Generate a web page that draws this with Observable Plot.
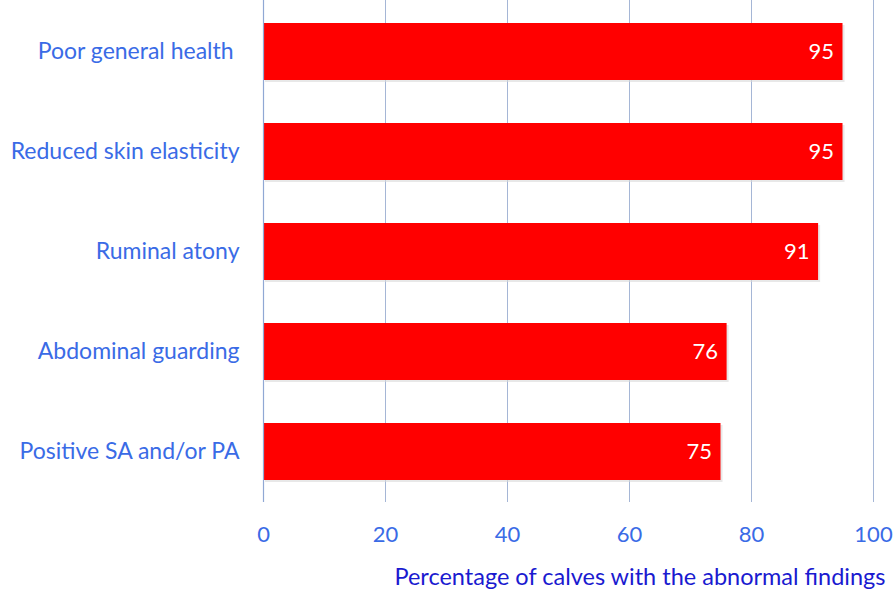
<!DOCTYPE html>
<html><head><meta charset="utf-8">
<script src="https://cdn.jsdelivr.net/npm/d3@7"></script>
<script src="https://cdn.jsdelivr.net/npm/@observablehq/plot@0.6"></script>
<style>body{margin:0;background:#fff;} svg{font-family:Lato,"Open Sans",sans-serif;}</style>
</head><body><div id="chart"></div>
<script>
const categories = ["Poor general health ", "Reduced skin elasticity", "Ruminal atony", "Abdominal guarding", "Positive SA and/or PA"];
const values = [95, 95, 91, 76, 75];
const xTicks = [0, 20, 40, 60, 80, 100];
const xTitle = "Percentage of calves with the abnormal findings";
const data = categories.map((c, i) => ({cat: c, v: values[i]}));

const chart = Plot.plot({
  width: 896, height: 593,
  marginLeft: 263, marginRight: 23, marginTop: 0, marginBottom: 91,
  style: {fontSize: "20px", fontFamily: "Lato, 'Open Sans', sans-serif"},
  x: {domain: [0, 100], ticks: xTicks},
  y: {domain: categories, paddingInner: 0.43, paddingOuter: 0.215, label: null},
  marks: [
    Plot.ruleX(xTicks.slice(1), {stroke: "#a5b6d6", strokeWidth: 1}),
    Plot.ruleY([0], {frameAnchor: "bottom", stroke: "#a5b6d6", strokeWidth: 1}),
    Plot.barX(data, {x: "v", y: "cat", fill: "#d8d8d8", dx: 2, dy: 2, fillOpacity: 0.6}),
    Plot.barX(data, {x: "v", y: "cat", fill: "#ff0000"}),
    Plot.ruleX([0], {stroke: "#90a8d4", strokeWidth: 1.2}),
    Plot.text(data, {x: "v", y: "cat", text: d => String(d.v), textAnchor: "end", dx: -9, fill: "white", fontSize: 22}),
    Plot.axisY({tickSize: 0, tickPadding: 24, color: "#3a6be6", fontSize: 23, label: null}),
    Plot.axisX(xTicks, {tickSize: 0, tickPadding: 24, color: "#3a6be6", fontSize: 22, label: null}),
    Plot.text([xTitle], {frameAnchor: "bottom-right", dx: 12, dy: 82, textAnchor: "end", fill: "#1a1ad0", fontSize: 23.5})
  ]
});
document.getElementById("chart").appendChild(chart);
</script></body></html>
